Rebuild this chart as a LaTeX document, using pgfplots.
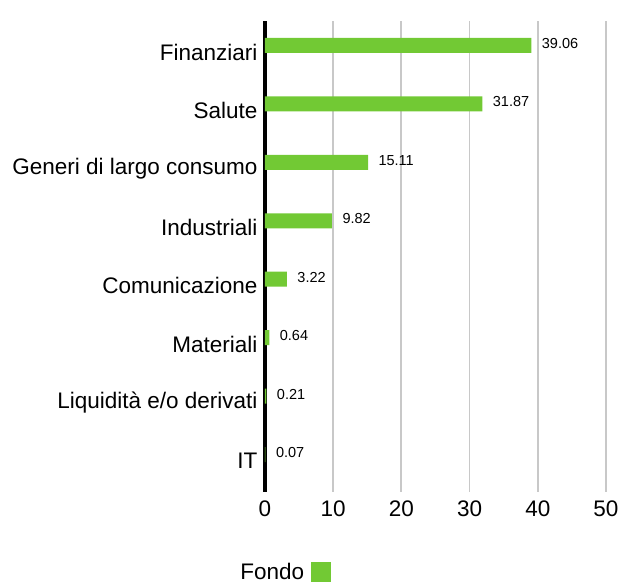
\documentclass[border=0pt]{standalone}
\usepackage{pgfplots}
\pgfplotsset{compat=1.18}
\usepackage{fontspec}
\setmainfont{Liberation Sans}
\definecolor{fondo}{RGB}{114,201,52}
\definecolor{gridgray}{RGB}{200,200,200}
\begin{document}
\begin{tikzpicture}
\begin{axis}[
  name=ax, at={(0pt,0pt)}, anchor=south west,
  scale only axis, width=341pt, height=471pt,
  xbar, bar width=15pt, bar shift=6.5pt,
  xmin=0, xmax=50, ymin=-0.53, ymax=7.53,
  xtick={0,10,20,30,40,50},
  ytick={0,1,2,3,4,5,6,7},
  yticklabels={IT,Liquidità e/o derivati,Materiali,Comunicazione,Industriali,Generi di largo consumo,Salute,Finanziari},
  axis lines=left,
  x axis line style={draw=none},
  y axis line style={black, line width=4pt, -},
  major tick length=0pt,
  xmajorgrids, major grid style={gridgray, line width=1.8pt},
  /pgf/number format/assume math mode=true,
  tick label style={font=\fontsize{22.5}{25}\selectfont},
  xticklabel style={yshift=-5pt},
  yticklabel style={xshift=-4pt},
  nodes near coords,
  nodes near coords style={font=\fontsize{14.5}{16}\selectfont, anchor=west, xshift=7pt, yshift=2pt, /pgf/number format/.cd, fixed, fixed zerofill, precision=2, assume math mode=true},
  legend style={at={(axis description cs:-0.073,-0.169)}, anchor=west, draw=none, fill=none, inner sep=0pt, font=\fontsize{22.5}{25}\selectfont, nodes={inner sep=0pt}},
  legend plot pos=right,
  legend image code/.code={\path[fill=none, draw=none] (0pt,-10pt) rectangle (27pt,10pt); \fill[fondo] (7pt,-10pt) rectangle (27pt,10pt);},
  clip=false,
]
\addplot[fill=fondo, draw=none] coordinates {
  (0.07,0) (0.21,1) (0.64,2) (3.22,3) (9.82,4) (15.11,5) (31.87,6) (39.06,7)
};
\addlegendentry{Fondo}
\end{axis}
\pgfresetboundingbox
\path (-265pt,-91pt) rectangle (356pt,492pt);
\end{tikzpicture}
\end{document}
